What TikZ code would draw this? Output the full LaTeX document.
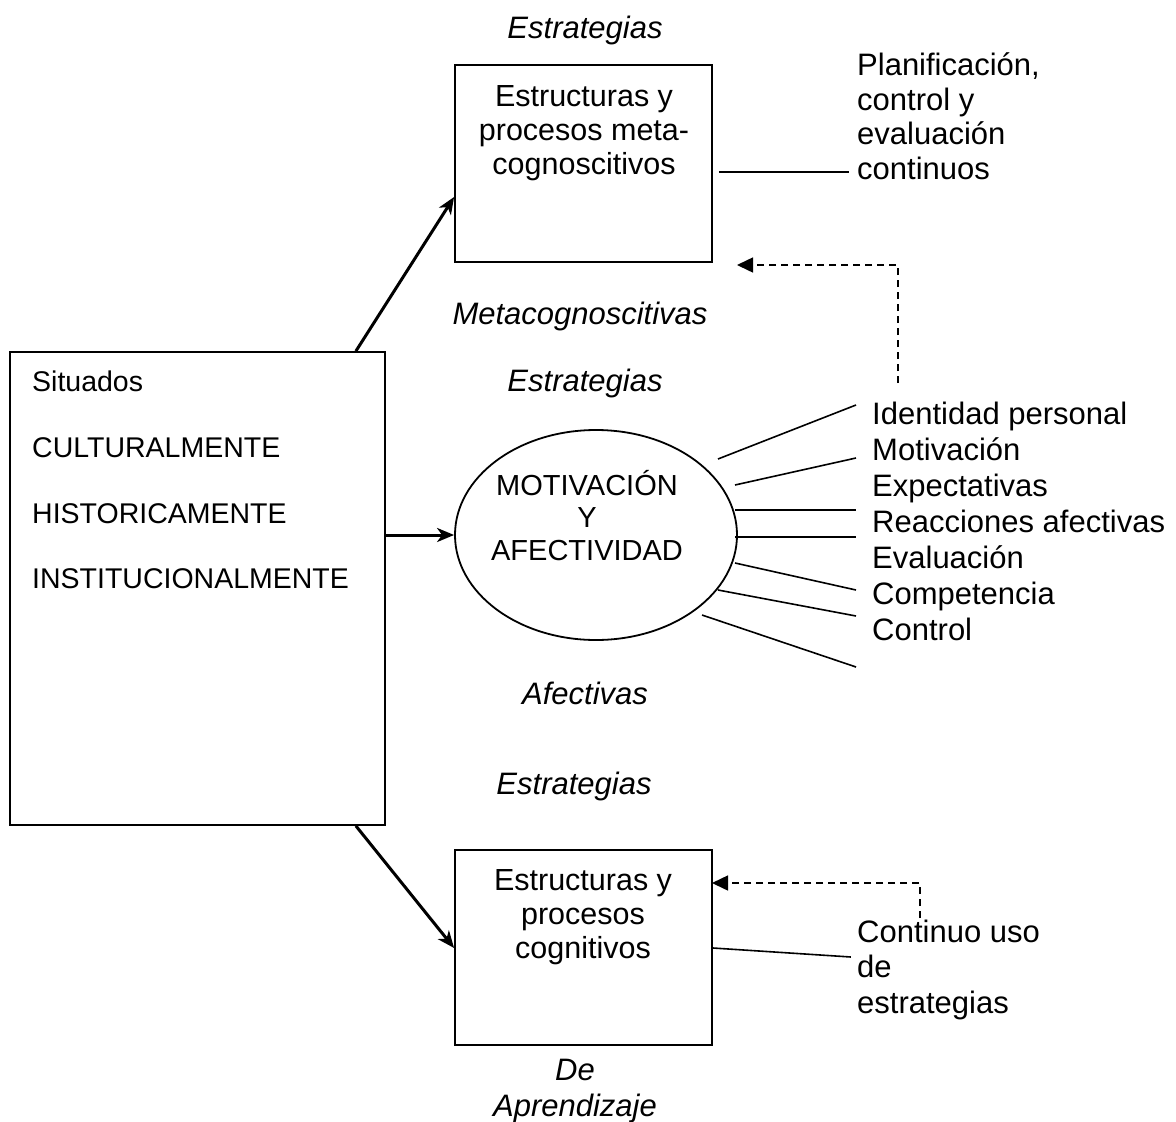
\documentclass[tikz,border=0pt]{standalone}
\usepackage{fontspec}
\setmainfont{Liberation Sans}
\usetikzlibrary{arrows.meta,shapes.geometric,calc}
\begin{document}
\begin{tikzpicture}[x=1pt,y=-1pt,
  box/.style={draw, line width=1.8pt, minimum width=#1, inner sep=0pt},
  caps/.style={font=\fontsize{28.5}{34}\selectfont, inner sep=0pt},
  txt/.style={font=\fontsize{30.5}{34}\selectfont, inner sep=0pt},
  ell/.style={font=\fontsize{29}{32.5}\selectfont, inner sep=0pt},
  lst/.style={font=\fontsize{31}{36}\selectfont, inner sep=0pt, align=left},
  itl/.style={font=\fontsize{31}{36}\selectfont\itshape, inner sep=0pt, align=center},
  arr/.style={line width=3pt, -{Stealth[length=17pt,width=14pt,inset=5pt]}},
  thin/.style={line width=1.6pt},
  dasharr/.style={line width=1.5pt, dash pattern=on 7pt off 5pt, -{Triangle[length=16pt,width=15pt]}}
]
\useasboundingbox (0,0) rectangle (1176,1122);

% main boxes and ellipse
\node[box=375, minimum height=473] (sit) at (197.5,588.5) {};
\node[box=257, minimum height=197] (meta) at (583.5,163.5) {};
\node[box=257, minimum height=195] (cog) at (583.5,947.5) {};
\node[draw, line width=1.8pt, ellipse, minimum width=282, minimum height=210, inner sep=0pt] (emo) at (596,535) {};

% texts inside the shapes
\node[caps, anchor=base west] (sit1) at (32,391) {Situados};
\node[caps, anchor=base west] (sit2) at (32,457) {CULTURALMENTE};
\node[caps, anchor=base west] (sit3) at (32,523) {HISTORICAMENTE};
\node[caps, anchor=base west] (sit4) at (32,588) {INSTITUCIONALMENTE};
\node[txt, align=center, anchor=north] (metat) at (584,85.5) {Estructuras y\\procesos meta-\\cognoscitivos};
\node[txt, align=center, anchor=north] (cogt) at (583,869.5) {Estructuras y\\procesos\\cognitivos};
\node[ell, align=center, anchor=north] (emot) at (587,470) {MOTIVACIÓN\\Y\\AFECTIVIDAD};

% italic captions
\node[itl, anchor=base] (e1) at (585,38) {Estrategias};
\node[itl, anchor=base] (m1) at (580,324) {Metacognoscitivas};
\node[itl, anchor=base] (e2) at (585,391) {Estrategias};
\node[itl, anchor=base] (a1) at (585,704) {Afectivas};
\node[itl, anchor=base] (e3) at (574,794) {Estrategias};
\node[itl, anchor=north] (apr) at (575,1058.5) {De\\Aprendizaje};

% side texts
\node[txt, font=\fontsize{31}{34.5}\selectfont, align=left, anchor=north west] (plan) at (857,52.5) {Planificación,\\control y\\evaluación\\continuos};
\node[lst, anchor=north west] (list) at (872,401.5) {Identidad personal\\Motivación\\Expectativas\\Reacciones afectivas\\Evaluación\\Competencia\\Control};
\node[txt, font=\fontsize{31}{35.5}\selectfont, align=left, anchor=north west] (uso) at (857,919.5) {Continuo uso\\de\\estrategias};

% solid arrows from the left box
\draw[arr] ($(sit.north east)+(-30,0)$) -- ($(meta.west)+(0,33.5)$);
\draw[arr] (sit.east |- emo.west) -- (emo.west);
\draw[arr] ($(sit.south east)+(-30,0)$) -- ($(cog.west)+(0,0.5)$);

% plain connector lines
\draw[thin] ($(meta.east)+(6,8.5)$) -- ++(130,0);
\draw[thin] ($(cog.east)+(0,0.5)$) -- ++(138,9);

% lines fanning out of the ellipse
\coordinate (p1) at (718,459); \coordinate (q1) at (856,405);
\coordinate (p2) at (735,485); \coordinate (q2) at (856,458);
\coordinate (p3) at (735,510); \coordinate (q3) at (856,510);
\coordinate (p4) at (735,537); \coordinate (q4) at (856,537);
\coordinate (p5) at (735,563); \coordinate (q5) at (856,590);
\coordinate (p6) at (718,590); \coordinate (q6) at (856,616);
\coordinate (p7) at (702,615); \coordinate (q7) at (856,667);
\foreach \i in {1,...,7} \draw[thin] (p\i) -- (q\i);

% dashed feedback arrows
\coordinate (d1) at (898,383);
\coordinate (d1e) at (737,265);
\draw[dasharr] (d1) -- (d1 |- d1e) -- (d1e);
\coordinate (d2) at (920,918);
\coordinate (d2e) at (712,883);
\draw[dasharr] (d2) -- (d2 |- d2e) -- (d2e);
\end{tikzpicture}
\end{document}
